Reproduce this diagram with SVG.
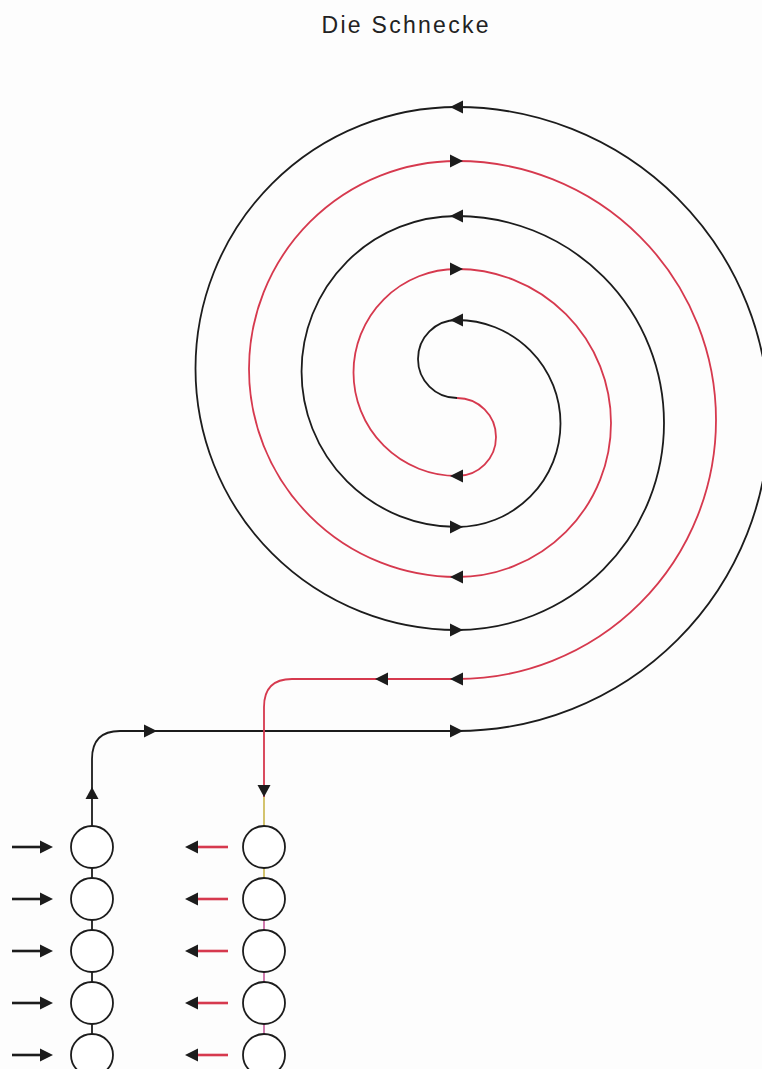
<svg xmlns="http://www.w3.org/2000/svg" width="762" height="1069" viewBox="0 0 762 1069">
<style>
.blk{fill:none;stroke:#1c1c1c;stroke-width:1.8}
.red{fill:none;stroke:#d6394e;stroke-width:1.8}
.node{fill:#ffffff;stroke:#1c1c1c;stroke-width:1.8}
.inb{stroke:#1c1c1c;stroke-width:2.6}
.inr{stroke:#d6394e;stroke-width:2.6}
.head{fill:#1c1c1c}
.title{font-family:"Liberation Sans",Arial,sans-serif;font-size:23px;fill:#222}
</style>
<defs>
<polygon id="hl" points="0,0 13,-6.5 13,6.5"/>
<polygon id="hr" points="0,0 -13,-6.5 -13,6.5"/>
<polygon id="hu" points="0,0 -6.5,12 6.5,12"/>
<polygon id="hd" points="0,0 -6.5,-12 6.5,-12"/>
</defs>
<rect width="762" height="1069" fill="#fdfdfd"/>
<text class="title" x="405" y="33" text-anchor="middle" textLength="167" lengthAdjust="spacing">Die Schnecke</text>

<g id="connectors">
<path class="blk" d="M92,826 L92,759 Q92,731 120,731 L457,731 A312,312 0 0 0 457,107 A261.5,261.5 0 0 0 457,630 A207,207 0 0 0 457,216 A155.5,155.5 0 0 0 457,527 A103.5,103.5 0 0 0 457,320 A39,39 0 0 0 457,398"/>
<path class="red" d="M457,398 A39,39 0 0 1 457,476 A103.5,103.5 0 0 1 457,269 A154,154 0 0 1 457,577 A208,208 0 0 1 457,161 A259,259 0 0 1 457,679 L292,679 Q264,679 264,707 L264,797"/>
<line x1="264" y1="797" x2="264" y2="826" stroke="#c9b54a" stroke-width="1.6"/>
<line x1="264" y1="868" x2="264" y2="878" stroke="#c9b54a" stroke-width="1.6"/>
<line x1="264" y1="920" x2="264" y2="930" stroke="#c4589a" stroke-width="1.6"/>
<line x1="264" y1="972" x2="264" y2="982" stroke="#c4589a" stroke-width="1.6"/>
<line x1="264" y1="1024" x2="264" y2="1034" stroke="#c4589a" stroke-width="1.6"/>
<line class="blk" x1="92" y1="868" x2="92" y2="1034"/>
<g class="head">
<use href="#hl" x="450" y="107"/>
<use href="#hl" x="450" y="216"/>
<use href="#hl" x="450" y="320"/>
<use href="#hl" x="450" y="476"/>
<use href="#hl" x="450" y="577"/>
<use href="#hl" x="450" y="679"/>
<use href="#hl" x="375" y="679"/>
<use href="#hr" x="463" y="161"/>
<use href="#hr" x="463" y="269"/>
<use href="#hr" x="463" y="527"/>
<use href="#hr" x="463" y="630"/>
<use href="#hr" x="463" y="731"/>
<use href="#hr" x="157" y="731"/>
<use href="#hu" x="92" y="787"/>
<use href="#hd" x="264" y="797"/>
</g>
<g id="inputs-left">
<line class="inb" x1="12" y1="847" x2="41" y2="847"/><use class="head" href="#hr" x="53" y="847"/>
<line class="inb" x1="12" y1="899" x2="41" y2="899"/><use class="head" href="#hr" x="53" y="899"/>
<line class="inb" x1="12" y1="951" x2="41" y2="951"/><use class="head" href="#hr" x="53" y="951"/>
<line class="inb" x1="12" y1="1003" x2="41" y2="1003"/><use class="head" href="#hr" x="53" y="1003"/>
<line class="inb" x1="12" y1="1055" x2="41" y2="1055"/><use class="head" href="#hr" x="53" y="1055"/>
</g>
<g id="outputs-right">
<line class="inr" x1="197" y1="847" x2="228" y2="847"/><use class="head" href="#hl" x="185" y="847"/>
<line class="inr" x1="197" y1="899" x2="228" y2="899"/><use class="head" href="#hl" x="185" y="899"/>
<line class="inr" x1="197" y1="951" x2="228" y2="951"/><use class="head" href="#hl" x="185" y="951"/>
<line class="inr" x1="197" y1="1003" x2="228" y2="1003"/><use class="head" href="#hl" x="185" y="1003"/>
<line class="inr" x1="197" y1="1055" x2="228" y2="1055"/><use class="head" href="#hl" x="185" y="1055"/>
</g>
</g>

<g id="L1"><circle class="node" cx="92" cy="847" r="21"/></g>
<g id="L2"><circle class="node" cx="92" cy="899" r="21"/></g>
<g id="L3"><circle class="node" cx="92" cy="951" r="21"/></g>
<g id="L4"><circle class="node" cx="92" cy="1003" r="21"/></g>
<g id="L5"><circle class="node" cx="92" cy="1055" r="21"/></g>
<g id="R1"><circle class="node" cx="264" cy="847" r="21"/></g>
<g id="R2"><circle class="node" cx="264" cy="899" r="21"/></g>
<g id="R3"><circle class="node" cx="264" cy="951" r="21"/></g>
<g id="R4"><circle class="node" cx="264" cy="1003" r="21"/></g>
<g id="R5"><circle class="node" cx="264" cy="1055" r="21"/></g>
</svg>
